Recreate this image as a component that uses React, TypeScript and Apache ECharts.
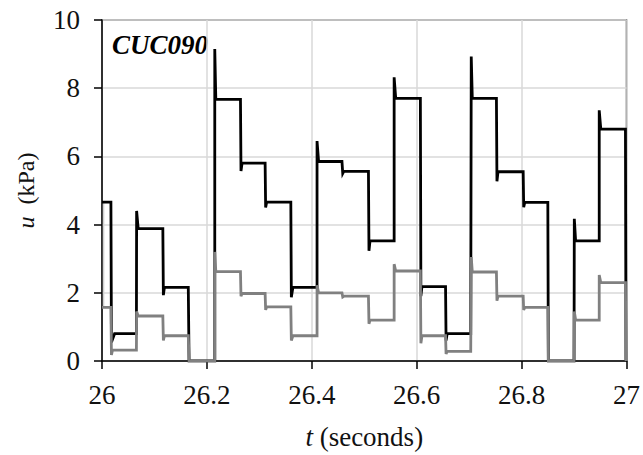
import React, { useEffect, useRef } from "react";
import * as echarts from "echarts";

// Tick labels
const xTicks = [26, 26.2, 26.4, 26.6, 26.8, 27];
const yTicks = [0, 2, 4, 6, 8, 10];

// Black trace (t in seconds, u in kPa)
const blackT = [
  26.0, 26.017, 26.018, 26.024, 26.0656, 26.066, 26.069, 26.116, 26.117, 26.119,
  26.1645, 26.166, 26.215, 26.215, 26.217, 26.264, 26.265, 26.267, 26.311, 26.312,
  26.314, 26.36, 26.361, 26.364, 26.41, 26.41, 26.413, 26.4575, 26.459, 26.461,
  26.508, 26.509, 26.511, 26.557, 26.557, 26.56, 26.607, 26.608, 26.61, 26.655,
  26.656, 26.658, 26.703, 26.704, 26.706, 26.752, 26.753, 26.755, 26.803, 26.804,
  26.806, 26.85, 26.851, 26.9, 26.9005, 26.903, 26.948, 26.948, 26.951, 26.998,
  26.999,
];
const blackU = [
  4.66, 4.66, 0.55, 0.8, 0.8, 4.4, 3.88, 3.88, 1.93, 2.16,
  2.16, 0, 0, 9.15, 7.67, 7.67, 5.57, 5.8, 5.8, 4.5,
  4.66, 4.66, 1.87, 2.16, 2.16, 6.45, 5.85, 5.85, 5.5, 5.56,
  5.56, 3.23, 3.52, 3.52, 8.32, 7.7, 7.7, 1.9, 2.18, 2.18,
  0.6, 0.8, 0.8, 8.93, 7.7, 7.7, 5.27, 5.55, 5.55, 4.51,
  4.65, 4.65, 0, 0, 4.17, 3.52, 3.52, 7.35, 6.8, 6.8,
  0,
];

// Grey trace
const grayT = [
  26.0, 26.017, 26.018, 26.02, 26.0656, 26.066, 26.069, 26.116, 26.117, 26.119,
  26.1645, 26.166, 26.215, 26.215, 26.217, 26.264, 26.265, 26.267, 26.311, 26.312,
  26.314, 26.36, 26.361, 26.364, 26.41, 26.41, 26.413, 26.4575, 26.459, 26.461,
  26.508, 26.509, 26.511, 26.557, 26.557, 26.56, 26.607, 26.608, 26.61, 26.655,
  26.656, 26.658, 26.703, 26.704, 26.706, 26.752, 26.753, 26.755, 26.803, 26.804,
  26.806, 26.85, 26.851, 26.9, 26.9005, 26.903, 26.948, 26.948, 26.951, 26.998,
  26.999,
];
const grayU = [
  1.57, 1.57, 0.18, 0.32, 0.32, 1.45, 1.32, 1.32, 0.6, 0.74,
  0.74, 0, 0, 3.2, 2.62, 2.62, 1.9, 1.98, 1.98, 1.5,
  1.59, 1.59, 0.6, 0.74, 0.74, 2.22, 2.0, 2.0, 1.88, 1.9,
  1.9, 1.09, 1.2, 1.2, 2.84, 2.64, 2.64, 0.52, 0.74, 0.74,
  0.21, 0.28, 0.28, 3.05, 2.61, 2.61, 1.77, 1.9, 1.9, 1.5,
  1.57, 1.57, 0, 0, 1.45, 1.2, 1.2, 2.52, 2.3, 2.3,
  0,
];

// Faint start edge of the grey trace
const edgeT = [26.003, 26.003];
const edgeU = [4.66, 1.6];

const FONT = '"Liberation Serif", "Times New Roman", serif';

function zip(t: number[], u: number[]) {
  return t.map((v, i) => [v, u[i]]);
}

export default function App() {
  const ref = useRef<HTMLDivElement>(null);
  useEffect(() => {
    if (!ref.current) return;
    const chart = echarts.init(ref.current, undefined, { renderer: "svg" });
    chart.setOption({
      animation: false,
      backgroundColor: "#ffffff",
      grid: {
        left: 102,
        right: 12,
        top: 20,
        bottom: 92,
        show: true,
        borderColor: "#404040",
        borderWidth: 1.5,
      },
      graphic: [
        {
          type: "text",
          left: 112,
          top: 31,
          style: {
            text: "CUC090",
            font: 'italic bold 27px "Liberation Serif"',
            fill: "#000",
          },
        },
      ],
      xAxis: {
        type: "value",
        min: xTicks[0],
        max: xTicks[xTicks.length - 1],
        interval: 0.2,
        name: "{i|t} (seconds)",
        nameLocation: "middle",
        nameGap: 62,
        nameTextStyle: {
          fontFamily: FONT,
          fontSize: 27,
          color: "#111",
          rich: { i: { fontStyle: "italic", fontFamily: FONT, fontSize: 27, color: "#111" } },
        },
        axisLine: { show: true, lineStyle: { color: "#000", width: 1.5 } },
        axisTick: { show: true, inside: false, length: 8, lineStyle: { color: "#000", width: 1.5 } },
        axisLabel: {
          margin: 20,
          fontFamily: FONT,
          fontSize: 27,
          color: "#111",
          formatter: (v: number) => String(Math.round(v * 10) / 10),
        },
        splitLine: { show: true, lineStyle: { color: "#d9d9d9", width: 1.5 } },
      },
      yAxis: {
        type: "value",
        min: yTicks[0],
        max: yTicks[yTicks.length - 1],
        interval: 2,
        name: "{i|u}  (kPa)",
        nameLocation: "middle",
        nameGap: 64,
        nameTextStyle: {
          fontFamily: FONT,
          fontSize: 24,
          color: "#111",
          rich: { i: { fontStyle: "italic", fontFamily: FONT, fontSize: 24, color: "#111" } },
        },
        axisLine: { show: true, lineStyle: { color: "#000", width: 1.5 } },
        axisTick: { show: true, inside: false, length: 8, lineStyle: { color: "#000", width: 1.5 } },
        axisLabel: { margin: 22, fontFamily: FONT, fontSize: 27, color: "#111" },
        splitLine: { show: true, lineStyle: { color: "#d9d9d9", width: 1.5 } },
      },
      series: [
        {
          type: "line",
          data: zip(edgeT, edgeU),
          showSymbol: false,
          lineStyle: { color: "#d0d0d0", width: 1.5 },
          clip: true,
        },
        {
          type: "line",
          data: zip(blackT, blackU),
          showSymbol: false,
          lineStyle: { color: "#000", width: 2.8, join: "miter" },
          clip: true,
        },
        {
          type: "line",
          data: zip(grayT, grayU),
          showSymbol: false,
          lineStyle: { color: "#808080", width: 2.8, join: "miter" },
          clip: true,
        },
      ],
    });
    return () => chart.dispose();
  }, []);
  return (
    <div
      ref={ref}
      style={{ position: "fixed", left: 0, top: 0, width: 643, height: 455, background: "#fff" }}
    />
  );
}
